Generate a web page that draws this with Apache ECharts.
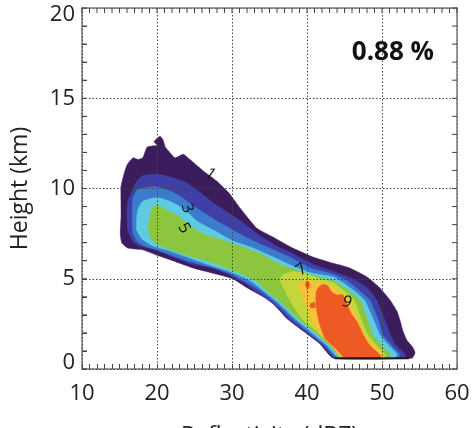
<!DOCTYPE html>
<html><head><meta charset="utf-8">
<script src="https://cdn.jsdelivr.net/npm/echarts@6/dist/echarts.min.js"></script>
<style>html,body{margin:0;padding:0;background:#fff}#c{width:472px;height:428px}</style>
</head><body><div id="c"></div>
<script>
// Axis ticks
const xTicks = [10, 20, 30, 40, 50, 60];
const yTicks = [0, 5, 10, 15, 20];
const xMinorStep = 1;   // dBZ between minor ticks
const yMinorStep = 1;   // km between minor ticks
const annotation = '0.88 %';

// Contour bands: polygons as [reflectivity dBZ, height km]
const band1 = [[20.4,12.9],[20.8,12.7],[21.1,12.3],[21.7,12.0],[22.4,11.7],[23.5,11.9],[24.4,11.6],[26.1,11.0],[28.0,10.4],[29.7,9.7],[31.1,8.9],[33.3,7.8],[35.5,7.3],[38.1,6.7],[40.8,6.2],[43.1,5.9],[45.7,5.6],[48.0,5.1],[49.7,4.5],[51.1,3.8],[52.0,3.2],[52.4,2.7],[52.8,2.1],[53.3,1.6],[54.1,1.2],[54.4,0.9],[54.0,0.6],[43.5,0.6],[41.7,1.4],[39.5,2.1],[37.3,2.8],[35.1,3.8],[33.3,4.2],[32.0,4.5],[30.1,5.0],[27.5,5.3],[24.8,5.6],[22.1,6.0],[20.0,6.3],[18.1,6.6],[16.1,6.7],[15.3,7.0],[15.1,7.5],[15.2,8.4],[15.2,9.3],[15.2,10.1],[15.6,10.8],[16.0,11.3],[16.8,11.7],[17.5,11.6],[18.1,11.7],[18.7,12.3],[20.0,12.4],[19.6,12.6]];
const band2 = [[17.3,10.4],[18.1,10.7],[20.0,10.8],[22.1,10.6],[24.0,10.3],[25.7,9.8],[27.5,9.2],[29.7,8.6],[31.5,8.1],[33.3,7.5],[36.0,6.8],[38.1,6.4],[40.8,5.8],[43.5,5.4],[46.1,5.0],[48.0,4.5],[49.3,3.8],[50.4,2.7],[51.1,1.9],[51.7,1.4],[53.1,0.8],[52.9,0.6],[43.7,0.6],[42.1,1.3],[39.9,2.0],[37.7,2.7],[35.5,3.6],[33.5,4.2],[31.5,4.8],[29.7,5.2],[27.5,5.6],[24.8,5.8],[22.1,6.2],[20.0,6.6],[17.7,6.8],[16.7,7.1],[16.1,7.7],[16.0,8.4],[16.1,9.3],[16.7,9.9]];
const band3 = [[17.7,10.0],[20.0,10.1],[22.1,9.8],[24.0,9.3],[25.7,8.8],[28.0,8.2],[30.1,7.7],[32.8,7.1],[35.5,6.6],[37.7,6.2],[40.4,5.6],[43.1,5.3],[45.3,4.9],[47.1,4.3],[48.4,3.8],[49.5,2.7],[50.1,1.9],[51.1,1.4],[52.4,0.8],[52.1,0.6],[44.0,0.6],[42.4,1.3],[40.3,2.0],[38.0,2.8],[35.7,3.7],[33.9,4.3],[31.9,4.8],[29.7,5.3],[26.7,5.7],[24.0,6.0],[21.3,6.4],[19.1,6.7],[17.5,7.0],[16.8,7.5],[16.7,8.2],[16.7,8.9],[16.8,9.5],[17.3,9.9]];
const band4 = [[18.1,9.3],[20.0,9.5],[21.7,9.3],[23.5,8.9],[25.3,8.2],[27.5,7.7],[30.1,7.1],[32.8,6.7],[35.5,6.2],[38.1,5.7],[40.8,5.3],[43.5,5.1],[45.1,4.7],[46.4,4.3],[47.7,3.8],[48.9,2.7],[49.7,1.9],[50.7,1.4],[52.0,0.8],[51.6,0.6],[44.3,0.6],[42.7,1.3],[40.7,2.0],[38.4,2.8],[36.1,3.7],[34.3,4.3],[32.4,4.9],[29.7,5.4],[26.7,5.8],[24.0,6.2],[21.3,6.6],[19.5,6.8],[18.0,7.2],[17.3,7.7],[17.3,8.4],[17.5,8.9]];
const band5 = [[19.3,8.9],[20.0,9.1],[21.3,8.8],[23.1,8.4],[24.8,7.8],[26.7,7.4],[28.4,7.2],[31.1,6.8],[33.7,6.4],[36.4,5.8],[39.1,5.4],[41.7,5.1],[43.5,4.9],[44.7,4.6],[45.7,4.3],[47.1,3.8],[48.1,2.7],[48.8,1.9],[49.7,1.4],[51.1,0.8],[50.8,0.6],[44.5,0.6],[43.1,1.3],[41.1,2.0],[38.8,2.8],[36.5,3.7],[34.7,4.3],[33.1,4.9],[31.1,5.3],[29.3,5.6],[26.7,6.0],[24.0,6.3],[21.3,6.7],[20.0,6.9],[19.1,7.3],[18.8,7.8],[19.1,8.6]];
const band7 = [[36.7,5.2],[38.0,5.4],[39.7,5.3],[41.7,5.0],[43.5,4.8],[44.4,4.5],[45.1,4.3],[46.3,3.8],[47.3,2.7],[48.1,1.9],[49.1,1.4],[50.4,0.8],[50.3,0.6],[44.7,0.6],[43.3,1.3],[41.5,2.0],[39.3,2.8],[38.0,3.6],[37.1,4.3],[36.4,4.9]];
const band8 = [[38.7,4.7],[39.7,4.9],[41.5,4.8],[43.1,4.6],[44.1,4.3],[45.3,3.9],[46.0,3.4],[46.8,2.7],[47.7,1.9],[48.7,1.4],[50.1,0.8],[50.1,0.6],[44.8,0.6],[43.5,1.2],[41.9,1.9],[40.5,2.8],[39.9,3.5],[39.2,4.2]];
const band9 = [[41.5,4.5],[42.1,4.7],[42.8,4.6],[43.2,4.3],[44.0,4.1],[44.8,4.1],[45.3,3.6],[46.0,3.0],[46.7,2.6],[47.5,1.9],[48.4,1.3],[49.7,0.8],[49.9,0.6],[45.1,0.6],[43.9,1.1],[42.4,1.7],[41.6,2.6],[41.2,3.5],[41.2,4.2]];
const band9Spot1 = [[39.8,4.8],[40.3,4.8],[40.3,4.5],[39.9,4.5]];
const band9Spot2 = [[40.4,3.6],[41.0,3.7],[41.1,3.4],[40.5,3.4]];
const baseLine = [[43.7,0.6],[53.6,0.6]];

// Contour labels: [text, dBZ, km]
const contourLabels = [['1',27.1,10.8],['3',24.0,8.9],['5',23.6,7.8],['7',39.3,5.5],['9',45.3,3.7]];

const bands = [band1, band2, band3, band4, band5, band7, band8, band9, band9Spot1, band9Spot2];
const bandColors = ['#3b1d5e','#3f3fa8','#3b7ccd','#5fcbe3','#8cc63f','#c3d63b','#f7c23a','#ee5a24','#ee5a24','#ee5a24'];
const labelRot = [-35, -70, -60, 35, -20];

const X0 = xTicks[0], X1 = xTicks[xTicks.length - 1];
const Y0 = yTicks[0], Y1 = yTicks[yTicks.length - 1];
const xMinorValues = [];
for (let v = X0; v <= X1; v += xMinorStep) xMinorValues.push(v);
const yMinorValues = [];
for (let v = Y0; v <= Y1; v += yMinorStep) yMinorValues.push(v);

const chart = echarts.init(document.getElementById('c'));
const FONT = 'Open Sans';
const TICK = { stroke: '#444', lineWidth: 1 };
const series = bands.map((pts, i) => ({
  type: 'custom', xAxisIndex: 0, yAxisIndex: 0, z: 2,
  silent: true, clip: true,
  data: [[pts[0][0], pts[0][1]]],
  renderItem: (params, api) => ({
    type: 'polygon',
    shape: { points: pts.map(p => api.coord(p)), smooth: 0.15 },
    style: { fill: bandColors[i], stroke: bandColors[i], lineWidth: 0.5 }
  })
}));
series.push({
  type: 'line', data: baseLine, symbol: 'none', silent: true, z: 3,
  lineStyle: { color: '#1a1a1a', width: 2 }
});
series.push({
  type: 'custom', z: 4, silent: true,
  data: contourLabels.map(l => [l[1], l[2], l[0]]),
  renderItem: (params, api) => {
    const p = api.coord([api.value(0), api.value(1)]);
    const l = contourLabels[params.dataIndex];
    return {
      type: 'text', x: p[0], y: p[1], rotation: labelRot[params.dataIndex] * Math.PI / 180,
      style: { text: l[0], fill: '#111', font: '16px "' + FONT + '"', align: 'center', verticalAlign: 'middle' }
    };
  }
});
// inward tick marks on the top frame, placed through the x scale
series.push({
  type: 'custom', z: 12, silent: true, clip: false,
  data: xMinorValues.map(v => [v, Y1]),
  renderItem: (params, api) => {
    const p = api.coord([api.value(0), Y1]);
    return { type: 'line', shape: { x1: p[0], y1: p[1], x2: p[0], y2: p[1] + 5 }, style: TICK };
  }
});
// inward tick marks on the left and right frames, placed through the y scale
series.push({
  type: 'custom', z: 12, silent: true, clip: false,
  data: yMinorValues.map(v => [X1, v]),
  renderItem: (params, api) => {
    const pr = api.coord([X1, api.value(1)]);
    const pl = api.coord([X0, api.value(1)]);
    return { type: 'group', children: [
      { type: 'line', shape: { x1: pr[0], y1: pr[1], x2: pr[0] - 5, y2: pr[1] }, style: TICK },
      { type: 'line', shape: { x1: pl[0], y1: pl[1], x2: pl[0] + 5, y2: pl[1] }, style: TICK }
    ] };
  }
});

function mkAxis(extra, split) {
  return Object.assign({
    type: 'value',
    axisLine: { show: true, onZero: false, lineStyle: { color: '#7a7a7a', width: 1.5 } },
    axisTick: { show: true, inside: true, length: 5, lineStyle: { color: '#444', width: 1 } },
    minorTick: { show: true, length: 5, splitNumber: split, lineStyle: { color: '#444', width: 1 } },
    minorSplitLine: { show: false }
  }, extra);
}
const yLabelStyle = { fontFamily: FONT, fontSize: 22, color: '#222' };
const gridLineStyle = { color: '#444', type: [1.5, 2], width: 1 };
chart.setOption({
  animation: false,
  backgroundColor: '#fff',
  title: { text: annotation, right: 33, top: 35, textStyle: { fontFamily: FONT, fontSize: 26, fontWeight: 'bold', color: '#111' } },
  grid: { left: 82, right: 15, top: 8, bottom: 59, containLabel: false, outerBoundsMode: 'none' },
  xAxis: [
    mkAxis({
      position: 'bottom', min: X0, max: X1, interval: 10,
      splitLine: { show: false },
      axisLabel: { fontFamily: FONT, fontSize: 22, color: '#222', margin: 14 },
      name: 'Reflectivity (dBZ)', nameLocation: 'middle', nameGap: 56,
      nameTextStyle: { fontFamily: FONT, fontSize: 23, color: '#222' }
    }, 10),
    mkAxis({
      position: 'top', min: X0, max: X1, interval: 10, z: 10,
      axisTick: { show: false }, minorTick: { show: false },
      axisLabel: { show: false },
      splitLine: { show: true, lineStyle: gridLineStyle }
    }, 10)
  ],
  yAxis: [
    mkAxis({
      position: 'left', min: Y0, max: Y1, interval: 5,
      splitLine: { show: false },
      axisLabel: Object.assign({}, yLabelStyle, {
        margin: 7,
        formatter: v => v === Y0 ? '{lo|' + v + '}' : (v === Y1 ? '{hi|' + v + '}' : String(v)),
        rich: {
          lo: Object.assign({}, yLabelStyle, { padding: [0, 0, 12, 0] }),
          hi: Object.assign({}, yLabelStyle, { padding: [13, 0, 0, 0] })
        }
      }),
      name: 'Height (km)', nameLocation: 'middle', nameGap: 50,
      nameTextStyle: { fontFamily: FONT, fontSize: 23, color: '#222' }
    }, 5),
    mkAxis({
      position: 'right', min: Y0, max: Y1, interval: 5, z: 10,
      axisTick: { show: false }, minorTick: { show: false },
      axisLabel: { show: false },
      splitLine: { show: true, lineStyle: gridLineStyle }
    }, 5)
  ],
  series: series
});
</script></body></html>
